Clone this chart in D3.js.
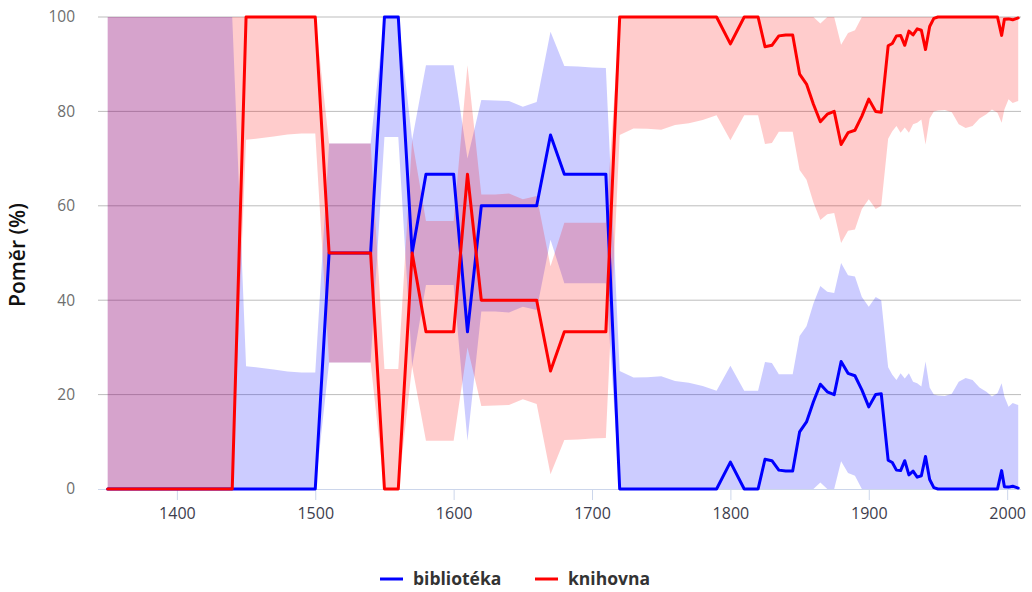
<!DOCTYPE html>
<html>
<head>
<meta charset="utf-8">
<script src="https://cdn.jsdelivr.net/npm/d3@7"></script>
<style>
  body { margin: 0; background: #fff; }
  svg { font-family: "Open Sans", sans-serif; }
</style>
</head>
<body>
<svg id="chart" width="1032" height="592"></svg>
<script>
// decade points up to 1800, then denser points
const years = [
  1350, 1360, 1370, 1380, 1390, 1400, 1410, 1420, 1430, 1440,
  1450, 1460, 1470, 1480, 1490, 1500, 1510, 1520, 1530, 1540,
  1550, 1560, 1570, 1580, 1590, 1600, 1610, 1620, 1630, 1640,
  1650, 1660, 1670, 1680, 1690, 1700, 1710, 1720, 1730, 1740,
  1750, 1760, 1770, 1780, 1790, 1800,
  1810, 1820, 1825, 1830, 1835, 1840, 1845, 1850, 1855, 1860,
  1865, 1870, 1875, 1880, 1885, 1890, 1895, 1900, 1905, 1909,
  1914, 1917, 1920, 1923, 1926, 1929, 1932, 1935, 1938, 1941,
  1944, 1947, 1950, 1955, 1960, 1965, 1970, 1975, 1980, 1985,
  1989, 1993, 1996, 1998, 2001, 2004, 2008
];

// bibliotéka
const bibValue = [
  0, 0, 0, 0, 0, 0, 0, 0, 0, 0,
  0, 0, 0, 0, 0, 0, 50, 50, 50, 50,
  100, 100, 50, 66.7, 66.7, 66.7, 33.3, 60, 60, 60,
  60, 60, 75, 66.7, 66.7, 66.7, 66.7, 0, 0, 0,
  0, 0, 0, 0, 0, 5.7,
  0, 0, 6.3, 6.0, 4.0, 3.8, 3.8, 12.1, 14.2, 18.5,
  22.2, 20.6, 20.0, 27.0, 24.5, 24.0, 21.0, 17.4, 20.0, 20.2,
  6.1, 5.6, 4.0, 3.9, 6.0, 3.0, 3.8, 2.5, 2.8, 6.9,
  2.0, 0.3, 0, 0, 0, 0, 0, 0, 0, 0,
  0, 0, 3.9, 0.5, 0.4, 0.6, 0.2
];
const bibLow = [
  0, 0, 0, 0, 0, 0, 0, 0, 0, 0,
  0, 0, 0, 0, 0, 0, 26.8, 26.8, 26.8, 26.8,
  74.6, 74.6, 26, 43.2, 43.2, 43.2, 10.2, 37.6, 37.6, 37.4,
  38.6, 37.9, 52.8, 43.6, 43.6, 43.6, 43.6, 0, 0, 0,
  0, 0, 0, 0, 0, 0,
  0, 0, 0, 0, 0, 0, 0, 0, 0, 0,
  1.4, 0, 0, 5.9, 3.4, 2.8, 0, 0, 0, 0,
  0, 0, 0, 0, 0, 0, 0, 0, 0, 0,
  0, 0, 0, 0, 0, 0, 0, 0, 0, 0,
  0, 0, 0, 0, 0, 0, 0
];
const bibHigh = [
  100, 100, 100, 100, 100, 100, 100, 100, 100, 100,
  26.0, 25.7, 25.3, 24.9, 24.7, 24.7, 73.2, 73.2, 73.2, 73.2,
  100, 100, 74, 89.8, 89.8, 89.8, 70, 82.4, 82.3, 82.2,
  81.0, 82.0, 96.9, 89.6, 89.5, 89.3, 89.2, 25.0, 23.6, 23.7,
  23.9, 22.9, 22.5, 21.8, 20.8, 26.1,
  20.8, 20.8, 26.9, 26.7, 24.3, 24.3, 24.3, 32.4, 34.5, 39.3,
  43.0, 41.8, 41.5, 47.9, 45.3, 45.0, 40.7, 38.6, 40.7, 40.0,
  25.8, 24.2, 23.1, 24.5, 23.4, 24.5, 22.7, 22.4, 21.7, 27.0,
  21.5, 20.0, 19.8, 19.7, 20.2, 22.7, 23.5, 23.1, 21.5, 20.6,
  19.6, 20.3, 22.4, 19.6, 17.4, 18.2, 17.8
];

// knihovna
const kniValue = [
  0, 0, 0, 0, 0, 0, 0, 0, 0, 0,
  100, 100, 100, 100, 100, 100, 50, 50, 50, 50,
  0, 0, 50, 33.3, 33.3, 33.3, 66.7, 40, 40, 40,
  40, 40, 25, 33.3, 33.3, 33.3, 33.3, 100, 100, 100,
  100, 100, 100, 100, 100, 94.3,
  100, 100, 93.7, 94.0, 96.0, 96.2, 96.2, 87.9, 85.8, 81.5,
  77.8, 79.4, 80.0, 73.0, 75.5, 76.0, 79.0, 82.6, 80.0, 79.8,
  93.9, 94.4, 96.0, 96.1, 94.0, 97.0, 96.2, 97.5, 97.2, 93.1,
  98.0, 99.7, 100, 100, 100, 100, 100, 100, 100, 100,
  100, 100, 96.1, 99.5, 99.6, 99.4, 99.8
];
const kniLow = [
  0, 0, 0, 0, 0, 0, 0, 0, 0, 0,
  74.0, 74.3, 74.7, 75.1, 75.3, 75.3, 26.8, 26.8, 26.8, 26.8,
  0, 0, 26, 10.2, 10.2, 10.2, 30, 17.6, 17.7, 17.8,
  19.0, 18.0, 3.1, 10.4, 10.5, 10.7, 10.8, 75.0, 76.4, 76.3,
  76.1, 77.1, 77.5, 78.2, 79.2, 73.9,
  79.2, 79.2, 73.1, 73.3, 75.7, 75.7, 75.7, 67.6, 65.5, 60.7,
  57.0, 58.2, 58.5, 52.1, 54.7, 55.0, 59.3, 61.4, 59.3, 60.0,
  74.2, 75.8, 76.9, 75.5, 76.6, 75.5, 77.3, 77.6, 78.3, 73.0,
  78.5, 80.0, 80.2, 80.3, 79.8, 77.3, 76.5, 76.9, 78.5, 79.4,
  80.4, 79.7, 77.6, 80.4, 82.6, 81.8, 82.2
];
const kniHigh = [
  100, 100, 100, 100, 100, 100, 100, 100, 100, 100,
  100, 100, 100, 100, 100, 100, 73.2, 73.2, 73.2, 73.2,
  25.4, 25.4, 74, 56.8, 56.8, 56.8, 89.8, 62.4, 62.4, 62.6,
  61.4, 62.1, 47.2, 56.4, 56.4, 56.4, 56.4, 100, 100, 100,
  100, 100, 100, 100, 100, 100,
  100, 100, 100, 100, 100, 100, 100, 100, 100, 100,
  98.6, 100, 100, 94.1, 96.6, 97.2, 100, 100, 100, 100,
  100, 100, 100, 100, 100, 100, 100, 100, 100, 100,
  100, 100, 100, 100, 100, 100, 100, 100, 100, 100,
  100, 100, 100, 100, 100, 100, 100
];

const xTicks = [1400, 1500, 1600, 1700, 1800, 1900, 2000];
const yTicks = [0, 20, 40, 60, 80, 100];

const series = [
  { name: "bibliotéka", color: "#0000ff", fill: "rgba(0,0,255,0.2)", value: bibValue, low: bibLow, high: bibHigh },
  { name: "knihovna", color: "#ff0000", fill: "rgba(255,0,0,0.2)", value: kniValue, low: kniLow, high: kniHigh }
];

const svg = d3.select("#chart");
const plotLeft = 98, plotRight = 1021, plotTop = 17, plotBottom = 489;

const x = d3.scaleLinear().domain([1343, 2010]).range([plotLeft, plotRight]);
const y = d3.scaleLinear().domain([0, 100]).range([plotBottom, plotTop]);

// grid
svg.append("g")
  .selectAll("line")
  .data(yTicks.filter(d => d > 0))
  .join("line")
  .attr("x1", plotLeft).attr("x2", plotRight)
  .attr("y1", d => y(d)).attr("y2", d => y(d))
  .attr("stroke", "#bdbdbd")
  .attr("stroke-width", 1);

// y labels
svg.append("g")
  .selectAll("text")
  .data(yTicks)
  .join("text")
  .attr("x", 75)
  .attr("y", d => y(d))
  .attr("dy", "0.35em")
  .attr("text-anchor", "end")
  .attr("fill", "#6e6e6e")
  .attr("font-size", 15.5)
  .text(d => d);

svg.append("text")
  .attr("transform", `translate(25,${(plotTop + plotBottom) / 2 + 2}) rotate(-90)`)
  .attr("text-anchor", "middle")
  .attr("fill", "#111")
  .attr("font-size", 21)
  .attr("font-weight", 600)
  .text("Poměr (%)");

// bands then lines
series.forEach(s => {
  const pts = years.map((yr, i) => ({ yr, lo: s.low[i], hi: s.high[i] }));
  svg.append("path")
    .datum(pts)
    .attr("fill", s.fill)
    .attr("d", d3.area().x(d => x(d.yr)).y0(d => y(d.lo)).y1(d => y(d.hi)));
});

// x axis
const xAxis = svg.append("g")
  .attr("transform", `translate(0,${plotBottom})`)
  .call(d3.axisBottom(x).tickValues(xTicks).tickFormat(d3.format("d")).tickSize(11).tickPadding(8));
xAxis.select(".domain").attr("stroke", "#ccd6eb").attr("d", `M${plotLeft},0.5H${plotRight}`);
xAxis.selectAll(".tick line").attr("stroke", "#ccd6eb");
xAxis.selectAll(".tick text")
  .attr("fill", "#3d3d4d")
  .attr("font-size", 16)
  .attr("font-family", "Open Sans, sans-serif");

series.forEach(s => {
  const pts = years.map((yr, i) => ({ yr, v: s.value[i] }));
  svg.append("path")
    .datum(pts)
    .attr("fill", "none")
    .attr("stroke", s.color)
    .attr("stroke-width", 3)
    .attr("stroke-linejoin", "round")
    .attr("stroke-linecap", "round")
    .attr("d", d3.line().x(d => x(d.yr)).y(d => y(d.v)));
});

// legend
const legend = svg.append("g").attr("transform", "translate(0,579)");
const legendX = [380, 535];
series.forEach((s, i) => {
  const g = legend.append("g").attr("transform", `translate(${legendX[i]},0)`);
  g.append("line")
    .attr("x1", 0).attr("x2", 23)
    .attr("y1", 0).attr("y2", 0)
    .attr("stroke", s.color)
    .attr("stroke-width", 3);
  g.append("text")
    .attr("x", 33)
    .attr("dy", "0.35em")
    .attr("font-size", 17.5)
    .attr("font-weight", 700)
    .attr("fill", "#333")
    .text(s.name);
});
</script>
</body>
</html>
